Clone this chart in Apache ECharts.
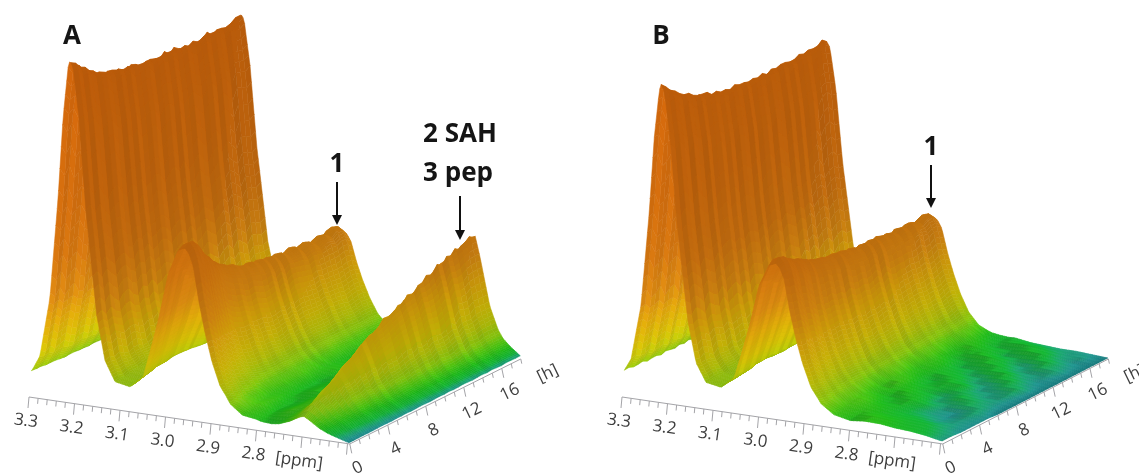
<!DOCTYPE html>
<html><head><meta charset="utf-8">
<style>html,body{margin:0;padding:0;background:#fff}#c{width:1139px;height:475px}</style>
<script src="https://cdn.jsdelivr.net/npm/echarts@6/dist/echarts.min.js"></script>
</head><body><div id="c"></div>
<script>
// ---- axes ----
const ppmMajor = [3.3,3.2,3.1,3.0,2.9,2.8,2.7];
const ppmLabels = ['3.3','3.2','3.1','3.0','2.9','2.8','[ppm]'];
const hMajor = [0,4,8,12,16,20];
const hLabels = ['0','4','8','12','16','[h]'];
// ---- peak heights along time, every 0.5 h from 0 to 18 ----
const peak1HeightA = [337,333,328,324,319,315,313,310,309,307,307,304,304,303,302,300,301,299,299,298,300,298,299,297,297,295,296,295,297,298,296,297,295,296,297,299,300];
const peak2HeightA = [164,167,166,161,155,148,142,137,130,127,122,119,115,114,110,108,106,107,104,105,102,103,100,102,98,99,101,96,98,99,95,97,99,96,100,101,95];
const peak3HeightA = [14,17,21,24,27,32,35,40,43,47,50,53,58,60,64,66,69,74,75,77,81,83,87,87,92,93,97,97,102,102,106,106,110,110,113,116,114];
const peak1HeightB = [313,309,304,300,296,293,290,286,285,283,282,279,279,276,276,274,275,273,274,272,273,272,273,271,272,271,273,272,272,271,273,272,273,272,273,276,272];
const peak2HeightB = [148,151,149,145,142,139,137,134,131,128,127,125,124,121,120,120,117,118,116,117,114,116,113,115,112,114,112,113,110,113,110,112,111,109,112,114,109];
// ---- small line-position wobble of each spectrum, ppm, every 0.5 h ----
const wobbleA = [0,0.001,-0.0006,0.0012,0,-0.001,0.0008,0.0014,-0.0004,-0.0012,0.0006,0,0.0012,-0.0008,-0.0002,0.0012,0.0004,-0.0012,0.0002,0.001,-0.0006,0.0012,-0.001,0,0.0014,0.0002,-0.0012,0.0004,0.001,-0.0008,0.0012,0,-0.0012,0.0008,0.0002,-0.0006,0];
const wobbleB = [0,-0.0008,0.001,0.0002,-0.0012,0.0012,0,-0.0006,0.0014,-0.001,0.0002,0.0012,-0.0008,0.0006,-0.0012,0.001,0.0002,-0.0006,0.0012,-0.0012,0.0004,0.001,-0.0008,0.0014,0,-0.001,0.0008,-0.0004,0.0012,-0.001,0.0002,0.001,-0.0012,0.0006,0.001,-0.0006,0];
// ---- peak centre, ppm, hour by hour 0..18 ----
const peak1CentreA = 3.21, peak3CentreA = 2.696, peak1CentreB = 3.214;
const peak2CentreA = [2.957,2.960,2.968,2.976,2.982,2.986,2.986,2.986,2.986,2.986,2.986,2.986,2.986,2.986,2.986,2.986,2.986,2.986,2.986];
const peak2CentreB = [2.962,2.965,2.969,2.973,2.976,2.979,2.979,2.979,2.979,2.979,2.979,2.979,2.979,2.979,2.979,2.979,2.979,2.979,2.979];
// ---- peak line shapes: ppm offset from centre -> fraction of height ----
const shape1Offset = [0.14,0.11,0.0835,0.066,0.044,0.026,0.015,0.004,0,-0.007,-0.02,-0.035,-0.059,-0.077,-0.099,-0.132,-0.16,-0.2];
const shape1Value  = [0.03,0.05,0.07,0.115,0.29,0.59,0.83,0.98,1,0.98,0.83,0.56,0.25,0.12,0.06,0.02,0.005,0];
const shape2Offset = [0.154,0.121,0.092,0.077,0.059,0.037,0.015,0,-0.009,-0.018,-0.031,-0.044,-0.059,-0.077,-0.099,-0.127,-0.165,-0.22];
const shape2Value  = [0.02,0.08,0.18,0.34,0.54,0.83,0.98,1,0.97,0.9,0.68,0.5,0.33,0.18,0.08,0.03,0.005,0];
const shape3Offset = [0.132,0.088,0.055,0.033,0.011,0,-0.011,-0.033,-0.051,-0.062,-0.077,-0.103];
const shape3Value  = [0,0.04,0.15,0.4,0.85,1,0.82,0.4,0.21,0.14,0.085,0.01];
// ---- residual floor height: rows in h, columns ppm 3.0 -> 2.6 ----
const floorA = [ // h = 0,2,...,18
 [7,8,7,8,10,8,9,7,8,7,6,4,1],
 [8,7,10,8,7,11,8,10,7,7,6,4,1],
 [7,9,8,11,8,10,7,8,8,6,6,3,1],
 [9,8,11,8,10,8,9,7,7,7,4,3,1],
 [8,10,8,9,11,7,8,8,6,6,4,3,1],
 [9,8,10,8,8,10,7,7,7,5,4,3,1],
 [8,10,8,9,7,8,8,6,6,4,4,2,1],
 [9,8,10,7,8,7,7,7,5,5,3,2,1],
 [8,9,7,8,7,8,6,6,5,4,4,2,1],
 [8,7,8,7,8,7,7,5,4,4,3,2,1]];
const floorB = [ // h = 0,1,...,18
 [8,8,9,11,11,9,9,11,11,9,8,6,3],
 [8,9,10,11,10,9,10,11,10,8,7,5,3],
 [7,9,10,9,9,11,11,9,8,7,6,4,2],
 [9,9,8,8,10,12,10,8,6,5,3,3,2],
 [10,9,8,10,11,10,8,8,5,3,2,3,2],
 [9,8,10,11,10,8,8,9,6,3,2,4,2],
 [8,9,11,10,8,9,10,8,4,4,5,4,1],
 [9,10,10,8,9,11,9,6,4,6,5,3,1],
 [11,10,8,9,11,10,7,7,6,5,3,3,1],
 [10,8,9,11,10,8,6,8,7,3,3,4,1],
 [8,9,11,10,8,8,8,7,4,3,5,5,1],
 [9,11,10,8,9,9,7,5,4,6,6,3,1],
 [10,10,8,9,10,8,5,5,7,7,4,2,1],
 [10,8,8,10,9,6,6,8,7,4,3,3,1],
 [8,9,10,9,7,7,9,8,5,3,5,4,1],
 [9,10,9,8,8,9,8,5,5,6,6,3,1],
 [10,9,8,9,10,8,6,6,8,7,4,2,1],
 [9,8,9,10,8,6,7,8,7,5,3,3,1],
 [7,8,8,7,6,6,7,5,4,3,3,2,1]];
const panelTitles = ['A','B'];

// ---- projection (oblique view) ----
const ppmStart = 3.295, ppmEnd = 2.595, ppmStep = 0.003, hStep = 0.5;
const nCols = Math.round((ppmStart-ppmEnd)/ppmStep), nRows = 36;
function lookup(xs, ys, v){
  if (v >= xs[0]) return ys[0];
  const n = xs.length-1;
  if (v <= xs[n]) return ys[n];
  for (let i=0;i<n;i++){
    if (v<=xs[i] && v>=xs[i+1]){
      const t=(xs[i]-v)/(xs[i]-xs[i+1]);
      return ys[i]+(ys[i+1]-ys[i])*t;
    }
  }
  return 0;
}
function floorAt(m, rowH, ppm, h){
  const c = Math.max(0,Math.min(12,(3.0-ppm)/(0.4/12)));
  const r = Math.max(0,Math.min(m.length-1,h/rowH));
  const c0=Math.floor(c), c1=Math.min(12,c0+1), r0=Math.floor(r), r1=Math.min(m.length-1,r0+1);
  const fc=c-c0, fr=r-r0;
  return (m[r0][c0]*(1-fc)+m[r0][c1]*fc)*(1-fr)+(m[r1][c0]*(1-fc)+m[r1][c1]*fc)*fr;
}
function buildSurface(p1,c1,p2,c2,p3,c3,fl,rowH,wob){
  const z=[];
  for (let j=0;j<=nRows;j++){
    const h=j*hStep, row=[], cc2=c2[Math.floor(h)]+(c2[Math.min(18,Math.floor(h)+1)]-c2[Math.floor(h)])*(h-Math.floor(h));
    for (let i=0;i<=nCols;i++){
      const ppm=ppmStart-i*ppmStep+wob[j];
      let v=p1[j]*lookup(shape1Offset,shape1Value,ppm-c1)+p2[j]*lookup(shape2Offset,shape2Value,ppm-cc2);
      if(p3) v+=p3[j]*lookup(shape3Offset,shape3Value,ppm-c3);
      v+=floorAt(fl,rowH,ppm,h)*Math.min(1,Math.max(0,(3.3-ppm)/0.3));
      row.push(v);
    }
    z.push(row);
  }
  return z;
}
const ramp=[[0,[12,100,110]],[2,[28,140,135]],[4,[22,158,100]],[6,[16,170,50]],[10,[28,176,22]],[15,[70,186,14]],[22,[125,186,12]],[35,[168,180,8]],[50,[190,170,6]],[75,[198,148,10]],[100,[194,122,16]],[140,[187,104,14]],[200,[185,96,12]],[340,[184,89,10]]];
function colorOf(z,shade){
  let c=ramp[ramp.length-1][1];
  for(let k=0;k<ramp.length-1;k++){
    if(z<=ramp[k+1][0]){
      const t=Math.max(0,(z-ramp[k][0])/(ramp[k+1][0]-ramp[k][0]));
      c=ramp[k][1].map((v,n)=>v+(ramp[k+1][1][n]-v)*t);
      break;
    }
  }
  return 'rgb('+c.map(v=>Math.min(255,Math.round(v*shade))).join(',')+')';
}
const panels=[
 {z:buildSurface(peak1HeightA,peak1CentreA,peak2HeightA,peak2CentreA,peak3HeightA,peak3CentreA,floorA,2,wobbleA),hx:9.5,hy:4.72},
 {z:buildSurface(peak1HeightB,peak1CentreB,peak2HeightB,peak2CentreB,null,0,floorB,1,wobbleB),hx:9.2,hy:4.72}
];
const proj=(P,ppm,h,z)=>[(3.3-ppm)*455+P.hx*h,(3.3-ppm)*66.6-P.hy*h-z];

const quads=[];
for(let j=nRows-1;j>=0;j--) for(let i=0;i<nCols;i++) quads.push([i,j]);

function surfaceSeries(idx){
  const P=panels[idx];
  return {type:'custom',xAxisIndex:idx,yAxisIndex:idx,coordinateSystem:'cartesian2d',silent:true,clip:false,
    progressive:0,animation:false,encode:{x:0,y:1},data:quads,
    renderItem(params,api){
      const i=api.value(0),j=api.value(1),h0=j*hStep,h1=(j+1)*hStep,p0=ppmStart-i*ppmStep,p1=p0-ppmStep;
      const Z=P.z;
      const pts=[proj(P,p0,h0,Z[j][i]),proj(P,p1,h0,Z[j][i+1]),proj(P,p1,h1,Z[j+1][i+1]),proj(P,p0,h1,Z[j+1][i])].map(q=>api.coord(q));
      const z=(Z[j][i]+Z[j][i+1]+Z[j+1][i]+Z[j+1][i+1])/4;
      const dh=(Z[j][i]+Z[j][i+1]-Z[j+1][i]-Z[j+1][i+1])/2;
      const dp=(Z[j][i+1]+Z[j+1][i+1]-Z[j][i]-Z[j+1][i])/2;
      let sh=1+Math.max(-0.04,Math.min(0.045,1.0*dh/(z+14)))+Math.min(0.12,0.03*Math.max(0,dp));
      if(z<25) sh+=Math.max(-0.05,Math.min(0.05,0.12*dh-0.6*dp))-0.02;
      const col=colorOf(z,sh);
      return {type:'polygon',shape:{points:pts},style:{fill:col,stroke:col,lineWidth:0.5},silent:true};
    }};
}
function axisSeries(idx){
  const P=panels[idx];
  const segs=[];
  segs.push([3.3,0,2.595,0,0,0]);
  segs.push([2.595,0,2.595,18,0,0]);
  for(let k=0;k<=35;k++){const p=3.3-k*0.02;segs.push([p,0,p,0,k%5===0?1:0.5,1]);}
  for(let k=0;k<=18;k++){segs.push([2.595,k,2.595,k,k%4===0?1:0.5,2]);}
  return {type:'custom',xAxisIndex:idx,yAxisIndex:idx,coordinateSystem:'cartesian2d',silent:true,clip:false,animation:false,
    encode:{x:0,y:1},data:segs,z:3,
    renderItem(params,api){
      const v=[0,1,2,3,4,5].map(n=>api.value(n));
      const a=api.coord(proj(P,v[0],v[1],0));
      if(v[5]===0){
        const b=api.coord(proj(P,v[2],v[3],0));
        return {type:'line',shape:{x1:a[0],y1:a[1],x2:b[0],y2:b[1]},style:{stroke:'#a4a4a8',lineWidth:1}};
      }
      const len=11*v[4];
      const d=v[5]===1?[-1*v[4],len]:[2*v[4],len*0.85];
      return {type:'line',shape:{x1:a[0],y1:a[1],x2:a[0]+d[0],y2:a[1]+d[1]},style:{stroke:'#a4a4a8',lineWidth:1}};
    }};
}
function labelSeries(idx){
  const P=panels[idx];
  const items=ppmMajor.map((p,k)=>[p,0,k,0]).concat(hMajor.map((h,k)=>[2.595,h,k,1]));
  return {type:'custom',xAxisIndex:idx,yAxisIndex:idx,coordinateSystem:'cartesian2d',silent:true,clip:false,animation:false,
    encode:{x:0,y:1},data:items,z:4,
    renderItem(params,api){
      const isH=api.value(3)===1,k=api.value(2);
      const a=api.coord(proj(P,api.value(0),api.value(1),0));
      return {type:'text',x:a[0]+(isH?8:-3),y:a[1]+24,rotation:isH?0.45:-0.14,
        style:{text:isH?hLabels[k]:ppmLabels[k],font:'17px "Open Sans"',fill:'#3e3e3e',textAlign:'center',textVerticalAlign:'middle'}};
    }};
}
const T=(t,x,y)=>({type:'text',x:x,y:y,z:10,style:{text:t,font:'bold 26px "Open Sans"',fill:'#151515',textAlign:'center',textVerticalAlign:'middle'}});
const Arrow=(x,y0,y1)=>([
 {type:'line',z:10,shape:{x1:x,y1:y0,x2:x,y2:y1-6},style:{stroke:'#111',lineWidth:2}},
 {type:'polygon',z:10,shape:{points:[[x-5,y1-10],[x+5,y1-10],[x,y1]]},style:{fill:'#111'}}
]);
const chart=echarts.init(document.getElementById('c'),null,{renderer:'canvas'});
chart.setOption({
  animation:false,backgroundColor:'#fff',
  grid:[{left:0,top:0,width:570,height:475},{left:570,top:0,width:569,height:475}],
  xAxis:[{type:'value',gridIndex:0,min:-29,max:541,show:false},{type:'value',gridIndex:1,min:-52,max:517,show:false}],
  yAxis:[{type:'value',gridIndex:0,min:-397,max:78,inverse:true,show:false},{type:'value',gridIndex:1,min:-397,max:78,inverse:true,show:false}],
  series:[axisSeries(0),surfaceSeries(0),labelSeries(0),axisSeries(1),surfaceSeries(1),labelSeries(1)],
  graphic:[T(panelTitles[0],72,37),T(panelTitles[1],661,37),T('1',337,165),T('2 SAH',460,135),T('3 pep',458,174),T('1',931,148),
    ...Arrow(337,182,225),...Arrow(460,196,240),...Arrow(931,165,208)]
});
</script></body></html>
